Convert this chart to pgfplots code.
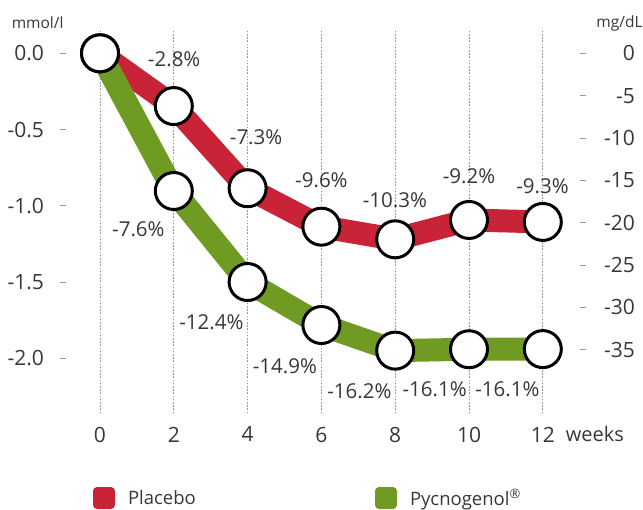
\documentclass[border=0pt]{standalone}
\usepackage{fontspec}
\setmainfont{Open Sans}
\usepackage{pgfplots}
\pgfplotsset{compat=1.18}
\usepackage{pgfplotstable}

\definecolor{placebored}{RGB}{200,35,55}
\definecolor{pycnogreen}{RGB}{111,155,35}
\definecolor{txtgray}{RGB}{55,55,55}
\definecolor{tickgray}{RGB}{150,150,150}

% change in cholesterol, mmol/l
\pgfplotstableread{
week chol
0   0.000
2  -0.346
4  -0.885
6  -1.137
8  -1.220
10 -1.093
12 -1.106
}\placebo

\pgfplotstableread{
week chol
0   0.000
2  -0.903
4  -1.500
6  -1.782
8  -1.950
10 -1.941
12 -1.940
}\pycno

\tikzset{pct/.style={text=txtgray, font=\fontsize{20.5}{24}\selectfont, inner sep=0pt}}

\pgfplotsset{
  frame/.style={
    at={(63.1pt,96.7pt)}, anchor=south west,
    scale only axis, width=520.3pt, height=383.3pt,
    xmin=-1, xmax=13.1,
    axis line style={draw=none},
    clip=false,
    tick align=center,
    major tick length=6pt,
    ytick style={tickgray, line width=1pt},
  },
}

\begin{document}
\begin{tikzpicture}
\useasboundingbox (0,0) rectangle (643pt,510pt);

% right-hand scale in mg/dL
\begin{axis}[frame,
  ymin=-42.5, ymax=2.754,
  hide x axis,
  ytick pos=right, yticklabel pos=right,
  ytick={0,-5,-10,-15,-20,-25,-30,-35},
  yticklabels={0,-5,-10,-15,-20,-25,-30,-35},
  yticklabel style={anchor=east, inner sep=0pt, xshift=48.6pt,
    text=txtgray, font=\fontsize{21}{24}\selectfont},
]
\node[anchor=base, text=txtgray, font=\fontsize{15.5}{18}\selectfont]
  at (axis cs:14.08,2.99) {mg/dL};
\end{axis}

% left-hand scale in mmol/l with the two series
\begin{axis}[frame,
  ymin=-2.361, ymax=0.153,
  ytick pos=left,
  ytick={0,-0.5,-1,-1.5,-2},
  yticklabels={0.0,-0.5,-1.0,-1.5,-2.0},
  yticklabel style={anchor=east, inner sep=0pt, xshift=-16pt,
    text=txtgray, font=\fontsize{21}{24}\selectfont},
  xtick={0,2,4,6,8,10,12},
  xticklabels={0,2,4,6,8,10,12},
  xtick style={draw=none},
  xticklabel style={text=txtgray, font=\fontsize{21}{24}\selectfont, yshift=-7pt},
  xmajorgrids,
  grid style={tickgray, line width=0.9pt, dash pattern=on 1.6pt off 1.6pt},
  legend columns=2,
  legend style={at={(0.0575,-0.221)}, anchor=west, draw=none, fill=none,
    inner sep=0pt, outer sep=0pt, column sep=0pt,
    nodes={inner sep=0pt, text=txtgray},
    font=\fontsize{18.5}{21}\selectfont},
]
\addplot[placebored, line width=23pt, line join=round, no marks,
  legend image code/.code={\path[fill=placebored, draw=none, rounded corners=4pt]
    (0pt,-11pt) rectangle (22pt,11pt);}]
  table[x=week, y=chol] {\placebo};
\addlegendentry{\makebox[260pt][l]{\hspace*{13pt}Placebo}}
\addplot[pycnogreen, line width=23pt, line join=round, no marks,
  legend image code/.code={\path[fill=pycnogreen, draw=none, rounded corners=4pt]
    (0pt,-11pt) rectangle (22pt,11pt);}]
  table[x=week, y=chol] {\pycno};
\addlegendentry{\hspace*{13pt}Pycnogenol\textsuperscript{®}}

\addplot[only marks, mark=*, mark size=18.5pt,
  mark options={fill=white, draw=black, line width=3pt}, forget plot]
  table[x=week, y=chol] {\placebo};
\addplot[only marks, mark=*, mark size=18.5pt,
  mark options={fill=white, draw=black, line width=3pt}, forget plot]
  table[x=week, y=chol] {\pycno};

% percentage changes from baseline
\node[pct] at (axis cs:2.01,-0.037) {-2.8\%};
\node[pct] at (axis cs:4.23,-0.549) {-7.3\%};
\node[pct] at (axis cs:6.00,-0.831) {-9.6\%};
\node[pct] at (axis cs:7.99,-0.965) {-10.3\%};
\node[pct] at (axis cs:10.0,-0.805) {-9.2\%};
\node[pct] at (axis cs:11.99,-0.870) {-9.3\%};
\node[pct] at (axis cs:1.04,-1.155) {-7.6\%};
\node[pct] at (axis cs:3.02,-1.765) {-12.4\%};
\node[pct] at (axis cs:5.01,-2.054) {-14.9\%};
\node[pct] at (axis cs:7.03,-2.218) {-16.2\%};
\node[pct] at (axis cs:9.07,-2.205) {-16.1\%};
\node[pct] at (axis cs:11.04,-2.205) {-16.1\%};

\node[anchor=base, text=txtgray, font=\fontsize{20}{24}\selectfont]
  at (axis cs:13.41,-2.549) {weeks};
\node[anchor=base, text=txtgray, font=\fontsize{15.5}{18}\selectfont]
  at (axis cs:-1.69,0.166) {mmol/l};
\end{axis}
\end{tikzpicture}
\end{document}
